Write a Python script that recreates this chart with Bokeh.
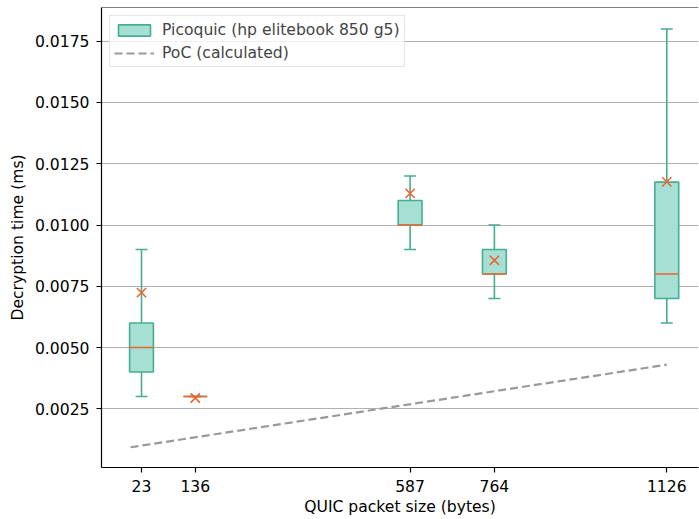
import numpy as np
from bokeh.plotting import figure
from bokeh.models import (Range1d, Legend, LegendItem, Span, FixedTicker,
                          NumeralTickFormatter, ColumnDataSource)
from bokeh.embed import file_html
from bokeh.resources import INLINE

# ---- data ----
sizes = [23, 136, 587, 764, 1126]
whisker_low = [0.003, 0.003, 0.009, 0.007, 0.006]
q1 = [0.004, 0.003, 0.010, 0.008, 0.007]
median = [0.005, 0.003, 0.010, 0.008, 0.008]
q3 = [0.006, 0.003, 0.011, 0.009, 0.01175]
whisker_high = [0.009, 0.003, 0.012, 0.010, 0.018]
mean = [0.00724, 0.00294, 0.01129, 0.00856, 0.01176]

poc_x = [0, 1126]
poc_y = [0.00093, 0.0043]

y_ticks = [0.0025, 0.0050, 0.0075, 0.0100, 0.0125, 0.0150, 0.0175]
x_ticks = sizes

series_box = "Picoquic (hp elitebook 850 g5)"
series_poc = "PoC (calculated)"

# ---- styling ----
FONT = "DejaVu Sans"
FS = "15.6px"
TEAL = "#45ad92"
TEAL_FILL = "#a6dfd4"
ORANGE = "#ee642c"
GRAY = "#999999"
BOX_W = 50
CAP_W = 25
Y_TOP = 0.018875

x = np.array(sizes, dtype=float)
src = ColumnDataSource(dict(
    x=x, lo=whisker_low, q1=q1, med=median, q3=q3, hi=whisker_high, mean=mean,
    bl=x - BOX_W / 2, br=x + BOX_W / 2, cl=x - CAP_W / 2, cr=x + CAP_W / 2,
))

p = figure(width=699, height=519, output_backend="svg", toolbar_location=None,
           x_range=Range1d(-61, 1192.6), y_range=Range1d(0.000105, Y_TOP),
           min_border_left=101, min_border_right=1, min_border_top=7,
           min_border_bottom=52)
p.outline_line_color = None
p.background_fill_color = "white"
p.border_fill_color = "white"

# whiskers and caps
p.segment(x0="x", y0="q3", x1="x", y1="hi", source=src, line_color=TEAL, line_width=1.6)
p.segment(x0="x", y0="q1", x1="x", y1="lo", source=src, line_color=TEAL, line_width=1.6)
p.segment(x0="cl", y0="hi", x1="cr", y1="hi", source=src, line_color=TEAL, line_width=1.6)
p.segment(x0="cl", y0="lo", x1="cr", y1="lo", source=src, line_color=TEAL, line_width=1.6)
# boxes
boxes = p.quad(left="bl", right="br", bottom="q1", top="q3", source=src,
               fill_color=TEAL_FILL, line_color=TEAL, line_width=1.6)
# medians
p.segment(x0="bl", y0="med", x1="br", y1="med", source=src, line_color=ORANGE, line_width=1.6)
# means
p.scatter(x="x", y="mean", source=src, marker="x", size=13,
          line_color=ORANGE, line_width=1.6)
# PoC
poc = p.line(poc_x, poc_y, line_color=GRAY, line_width=2.2, line_dash="8 4")

# top spine
p.add_layout(Span(location=Y_TOP, dimension="width", line_color="black", line_width=1.2))

# axes
for ax in (p.xaxis[0], p.yaxis[0]):
    ax.axis_line_color = "black"
    ax.axis_line_width = 1.2
    ax.major_tick_line_color = "black"
    ax.major_tick_line_width = 1.2
    ax.major_tick_out = 5
    ax.major_tick_in = 0
    ax.minor_tick_line_color = None
    ax.major_label_text_font = FONT
    ax.major_label_text_font_size = FS
    ax.major_label_text_color = "black"
    ax.axis_label_text_font = FONT
    ax.axis_label_text_font_size = FS
    ax.axis_label_text_font_style = "normal"
    ax.axis_label_text_color = "black"

p.xaxis.ticker = FixedTicker(ticks=x_ticks)
p.xaxis.major_label_overrides = {v: str(v) for v in x_ticks}
p.xaxis.axis_label = "QUIC packet size (bytes)"
p.xaxis.major_label_standoff = 7
p.xaxis.axis_label_standoff = 3

p.yaxis.ticker = FixedTicker(ticks=y_ticks)
p.yaxis.formatter = NumeralTickFormatter(format="0.0000")
p.yaxis.axis_label = "Decryption time (ms)"
p.yaxis.major_label_standoff = 7
p.yaxis.axis_label_standoff = 5

p.xgrid.grid_line_color = None
p.ygrid.grid_line_color = "#b0b0b0"
p.ygrid.grid_line_width = 1.2

legend = Legend(items=[LegendItem(label=series_box, renderers=[boxes]),
                       LegendItem(label=series_poc, renderers=[poc])],
                location="top_left", margin=8, padding=4, spacing=4,
                glyph_width=40, glyph_height=14, label_height=19, label_standoff=8,
                label_text_font=FONT, label_text_font_size=FS,
                border_line_color="#cccccc", border_line_width=1,
                background_fill_color="white", background_fill_alpha=0.8)
p.add_layout(legend)

open("out.html", "w").write(file_html(p, INLINE))
